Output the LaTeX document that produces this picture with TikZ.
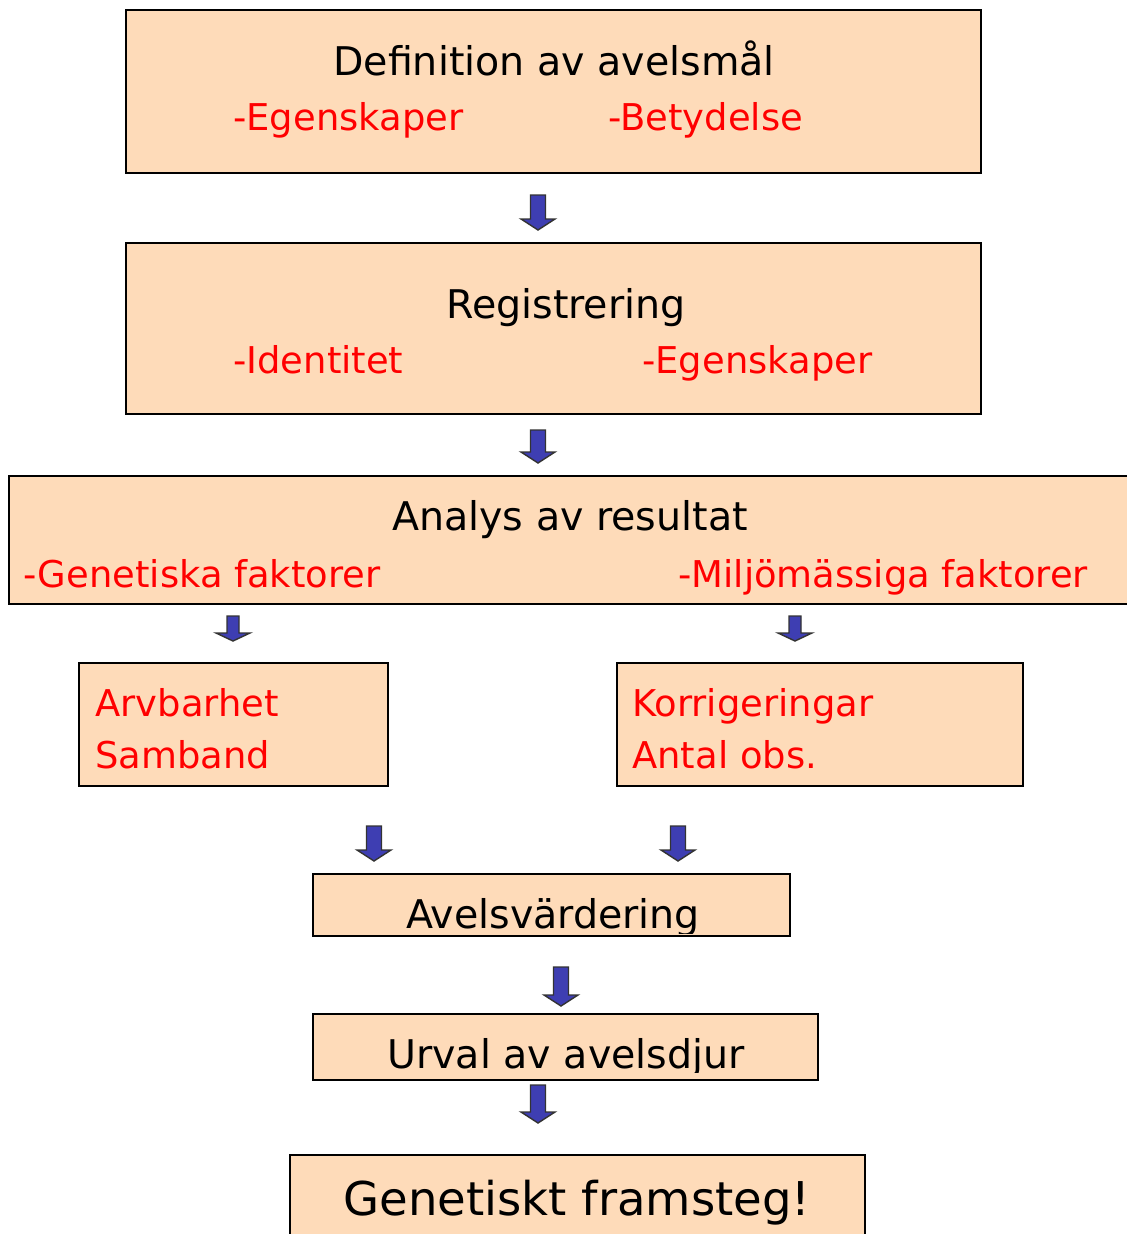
\documentclass[tikz,border=0pt]{standalone}
\usepackage{fontspec}
\setmainfont{DejaVu Sans}
\usetikzlibrary{calc}
\definecolor{boxpeach}{RGB}{254,219,185}
\definecolor{arrowblue}{RGB}{62,62,178}
\definecolor{textred}{RGB}{255,0,0}
\tikzset{
  box/.style={draw=black, fill=boxpeach, line width=1.1pt, inner sep=0pt},
  title/.style={anchor=base, inner sep=0pt, font=\fontsize{22.5}{27}\selectfont},
  item/.style={anchor=base west, inner sep=0pt, text=textred, font=\fontsize{21}{25}\selectfont},
  blockarrow/.style={fill=arrowblue, draw=black!80, line width=0.8pt, line join=miter}
}

\begin{document}
\begin{tikzpicture}[x=0.02cm, y=-0.02cm]
  \useasboundingbox (0,0) rectangle (1126,1234);
  % boxes
  \node [box, minimum width=17.1cm, minimum height=3.26cm] (def) at (553.5,91.5) {};
  \node [box, minimum width=17.1cm, minimum height=3.42cm] (reg) at (553.5,328.5) {};
  \node [box, minimum width=22.62cm, minimum height=2.56cm] (ana) at (574.5,540) {};
  \node [box, minimum width=6.18cm, minimum height=2.46cm] (arv) at (233.5,724.5) {};
  \node [box, minimum width=8.12cm, minimum height=2.46cm] (kor) at (820,724.5) {};
  \node [box, minimum width=9.54cm, minimum height=1.24cm] (avv) at (551.5,905) {};
  \node [box, minimum width=10.1cm, minimum height=1.32cm] (urv) at (565.5,1047) {};
  \node [box, minimum width=11.5cm, minimum height=2.1cm] (gen) at (577.5,1207.5) {};
  % texts
  \node [title] (defT) at (554,75) {Definition av avelsmål};
  \node [item] (defA) at (233,130) {-Egenskaper};
  \node [item] (defB) at (608,130) {-Betydelse};
  \node [title] (regT) at (566,318) {Registrering};
  \node [item] (regA) at (233,373) {-Identitet};
  \node [item] (regB) at (642,373) {-Egenskaper};
  \node [title] (anaT) at (570,530) {Analys av resultat};
  \node [item] (anaA) at (23,587) {-Genetiska faktorer};
  \node [item] (anaB) at (678,587) {-Miljömässiga faktorer};
  \node [item] (arvA) at (95,716) {Arvbarhet};
  \node [item] (arvB) at (95,768) {Samband};
  \node [item] (korA) at (632,716) {Korrigeringar};
  \node [item] (korB) at (632,768) {Antal obs.};
  \begin{scope}
    \clip ($(avv.south west)+(1,-3)$) rectangle (avv.north east);
    \node [title] (avvT) at (553,928) {Avelsvärdering};
  \end{scope}
  \begin{scope}
    \clip ($(urv.south west)+(1,-8)$) rectangle (urv.north east);
    \node [title] (urvT) at (566,1068) {Urval av avelsdjur};
  \end{scope}
  \node [title, font=\fontsize{26.5}{32}\selectfont] (genT) at (577,1215) {Genetiskt framsteg!};
  % block arrows: x / top / length / shaft / head height
  \foreach \x/\y/\l/\s/\h in {538/195/35/7.5/11, 538/430/33/7.5/11, 233/616/25/6/8,
      795/616/25/6/8, 374/826/35/7.5/11, 678/826/35/7.5/11, 561/967/39/7.5/11, 538/1085/38/7.5/11}{
    \filldraw [blockarrow] ({\x-\s},\y) -- ({\x+\s},\y) -- ({\x+\s},{\y+\l-\h})
      -- ({\x+17},{\y+\l-\h}) -- (\x,{\y+\l}) -- ({\x-17},{\y+\l-\h})
      -- ({\x-\s},{\y+\l-\h}) -- cycle;
  }
\end{tikzpicture}
\end{document}
